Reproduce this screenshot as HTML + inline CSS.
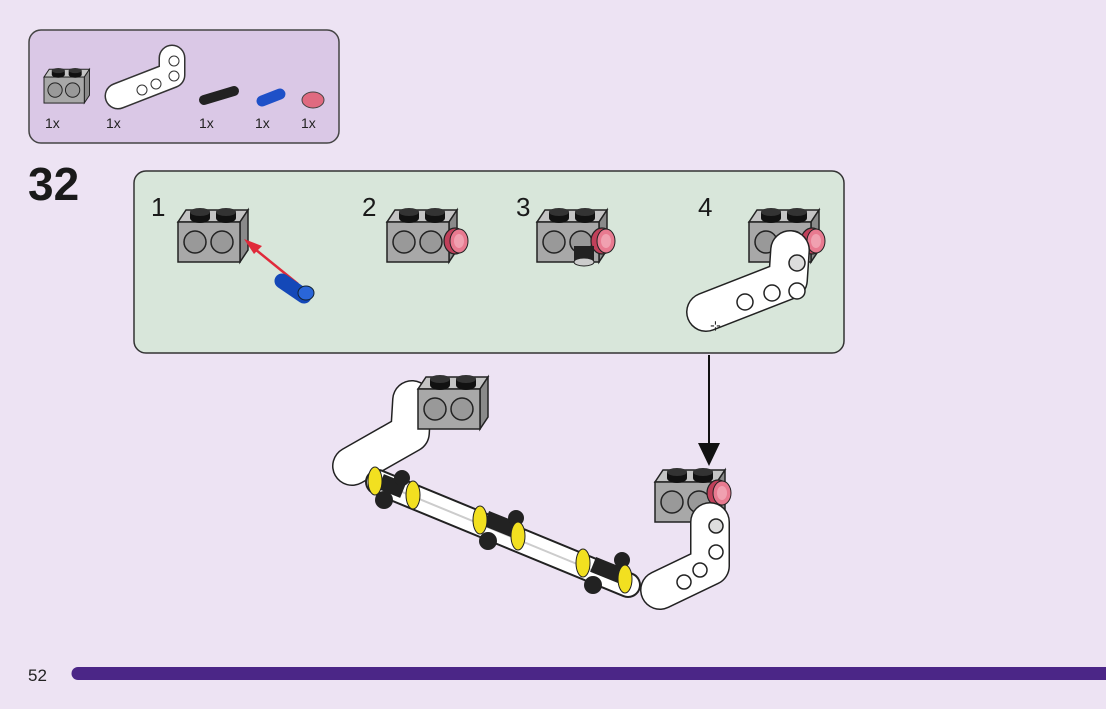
<!DOCTYPE html>
<html><head><meta charset="utf-8"><style>
html,body{margin:0;padding:0;}
body{width:1106px;height:709px;background:#ede3f3;overflow:hidden;position:relative;font-family:"Liberation Sans",sans-serif;}
</style></head><body>
<svg width="1106" height="709" viewBox="0 0 1106 709" xmlns="http://www.w3.org/2000/svg" style="position:absolute;left:0;top:0">
<defs>
<g id="brick">
  <polygon points="0,17 8,5 70,5 62,17" fill="#c4c4c4" stroke="#222" stroke-width="1.5"/>
  <polygon points="62,17 70,5 70,45 62,57" fill="#8a8a8a" stroke="#222" stroke-width="1.5"/>
  <rect x="0" y="17" width="62" height="40" fill="#a8a8a8" stroke="#222" stroke-width="1.5"/>
  <ellipse cx="22" cy="13" rx="10" ry="5" fill="#111"/><rect x="12" y="7" width="20" height="6" fill="#111"/><ellipse cx="22" cy="7" rx="10" ry="4" fill="#333"/>
  <ellipse cx="48" cy="13" rx="10" ry="5" fill="#111"/><rect x="38" y="7" width="20" height="6" fill="#111"/><ellipse cx="48" cy="7" rx="10" ry="4" fill="#333"/>
  <circle cx="17" cy="37" r="11" fill="#999" stroke="#222" stroke-width="1.5"/>
  <circle cx="44" cy="37" r="11" fill="#999" stroke="#222" stroke-width="1.5"/>
</g>
<g id="disc">
  <ellipse cx="0" cy="0" rx="11" ry="13" fill="#c0405a" stroke="#222" stroke-width="1.2"/>
  <ellipse cx="4" cy="0" rx="9" ry="12" fill="#e87a90" stroke="#222" stroke-width="1"/>
  <ellipse cx="4" cy="0" rx="5" ry="7" fill="#f0a0b0"/>
</g>
</defs>

<!-- parts box -->
<rect x="29" y="30" width="310" height="113" rx="12" fill="#dac8e6" stroke="#444" stroke-width="1.5"/>
<g transform="translate(44,66) scale(0.65)"><use href="#brick"/></g>
<path d="M118,96 L172,75 L172,58" stroke="#333" stroke-width="27" fill="none" stroke-linecap="round" stroke-linejoin="round"/>
<path d="M118,96 L172,75 L172,58" stroke="#fff" stroke-width="24" fill="none" stroke-linecap="round" stroke-linejoin="round"/>
<circle cx="142" cy="90" r="5" fill="none" stroke="#333"/><circle cx="156" cy="84" r="5" fill="none" stroke="#333"/><circle cx="174" cy="76" r="5" fill="none" stroke="#333"/><circle cx="174" cy="61" r="5" fill="none" stroke="#333"/>
<path d="M204,100 L234,91" stroke="#222" stroke-width="10" stroke-linecap="round"/>
<path d="M262,101 L280,94" stroke="#1e50c8" stroke-width="11" stroke-linecap="round"/>
<ellipse cx="313" cy="100" rx="11" ry="8" fill="#e06a80" stroke="#444"/>
<g font-size="14" fill="#222"><text x="45" y="128">1x</text><text x="106" y="128">1x</text><text x="199" y="128">1x</text><text x="255" y="128">1x</text><text x="301" y="128">1x</text></g>

<text x="28" y="200" font-size="46" font-weight="bold" fill="#1a1a1a">32</text>

<!-- step box -->
<rect x="134" y="171" width="710" height="182" rx="12" fill="#d8e6da" stroke="#333" stroke-width="1.5"/>
<g font-size="26" fill="#1a1a1a"><text x="151" y="216">1</text><text x="362" y="216">2</text><text x="516" y="216">3</text><text x="698" y="216">4</text></g>

<use href="#brick" x="178" y="205"/>
<line x1="298" y1="284" x2="250" y2="245" stroke="#e02a3a" stroke-width="2.5"/>
<polygon points="244,239 262,246 254,254" fill="#e02a3a"/>
<path d="M282,281 L304,296" stroke="#1448b8" stroke-width="15" stroke-linecap="round"/>
<ellipse cx="306" cy="293" rx="8" ry="7" fill="#2a66d8" stroke="#123"/>

<use href="#brick" x="387" y="205"/>
<use href="#disc" x="455" y="241"/>

<use href="#brick" x="537" y="205"/>
<use href="#disc" x="602" y="241"/>
<rect x="574" y="246" width="20" height="16" fill="#222"/><ellipse cx="584" cy="262" rx="10" ry="4" fill="#ccc" stroke="#222"/>

<use href="#brick" x="749" y="205"/>
<use href="#disc" x="812" y="241"/>
<path d="M706,312 L788,280 L790,250" stroke="#222" stroke-width="40" fill="none" stroke-linecap="round" stroke-linejoin="round"/>
<path d="M706,312 L788,280 L790,250" stroke="#fff" stroke-width="37" fill="none" stroke-linecap="round" stroke-linejoin="round"/>
<circle cx="745" cy="302" r="8" fill="#fff" stroke="#222" stroke-width="1.5"/><circle cx="772" cy="293" r="8" fill="#fff" stroke="#222" stroke-width="1.5"/><circle cx="797" cy="291" r="8" fill="#fff" stroke="#222" stroke-width="1.5"/><circle cx="797" cy="263" r="8" fill="#ddd" stroke="#222" stroke-width="1.5"/>
<text x="710" y="330" font-size="13" fill="#222">⊹</text>

<!-- arrow -->
<line x1="709" y1="355" x2="709" y2="445" stroke="#111" stroke-width="2"/>
<polygon points="698,443 720,443 709,466" fill="#111"/>

<!-- assembly -->
<path d="M352,466 L410,433 L412,400" stroke="#222" stroke-width="40" fill="none" stroke-linecap="round" stroke-linejoin="round"/>
<path d="M352,466 L410,433 L412,400" stroke="#fff" stroke-width="37" fill="none" stroke-linecap="round" stroke-linejoin="round"/>
<use href="#brick" x="418" y="372"/>
<path d="M378,482 L628,585" stroke="#222" stroke-width="26" stroke-linecap="round"/>
<path d="M378,482 L628,585" stroke="#fff" stroke-width="22" stroke-linecap="round"/>
<path d="M378,482 L628,585" stroke="#ccc" stroke-width="2"/>
<g fill="#222">
<rect x="380" y="478" width="24" height="16" transform="rotate(22 392 486)"/><circle cx="384" cy="500" r="9"/><circle cx="402" cy="478" r="8"/>
<rect x="485" y="516" width="30" height="16" transform="rotate(22 500 524)"/><circle cx="488" cy="541" r="9"/><circle cx="516" cy="518" r="8"/>
<rect x="592" y="562" width="30" height="16" transform="rotate(22 607 570)"/><circle cx="593" cy="585" r="9"/><circle cx="622" cy="560" r="8"/>
</g>
<g fill="#f2e020" stroke="#222" stroke-width="1">
<ellipse cx="375" cy="481" rx="7" ry="14"/><ellipse cx="413" cy="495" rx="7" ry="14"/>
<ellipse cx="480" cy="520" rx="7" ry="14"/><ellipse cx="518" cy="536" rx="7" ry="14"/>
<ellipse cx="583" cy="563" rx="7" ry="14"/><ellipse cx="625" cy="579" rx="7" ry="14"/>
</g>
<use href="#brick" x="655" y="465"/>
<use href="#disc" x="718" y="493"/>
<path d="M660,590 L710,566 L710,522" stroke="#222" stroke-width="40" fill="none" stroke-linecap="round" stroke-linejoin="round"/>
<path d="M660,590 L710,566 L710,522" stroke="#fff" stroke-width="37" fill="none" stroke-linecap="round" stroke-linejoin="round"/>
<circle cx="684" cy="582" r="7" fill="#fff" stroke="#222" stroke-width="1.5"/><circle cx="700" cy="570" r="7" fill="#fff" stroke="#222" stroke-width="1.5"/><circle cx="716" cy="552" r="7" fill="#fff" stroke="#222" stroke-width="1.5"/><circle cx="716" cy="526" r="7" fill="#ddd" stroke="#222" stroke-width="1.5"/>

<!-- footer -->
<text x="28" y="681" font-size="17" fill="#222">52</text>
<path d="M78,667 L1106,667 L1106,680 L78,680 A6.5,6.5 0 0 1 78,667 Z" fill="#4b2687"/>
</svg>
</body></html>
